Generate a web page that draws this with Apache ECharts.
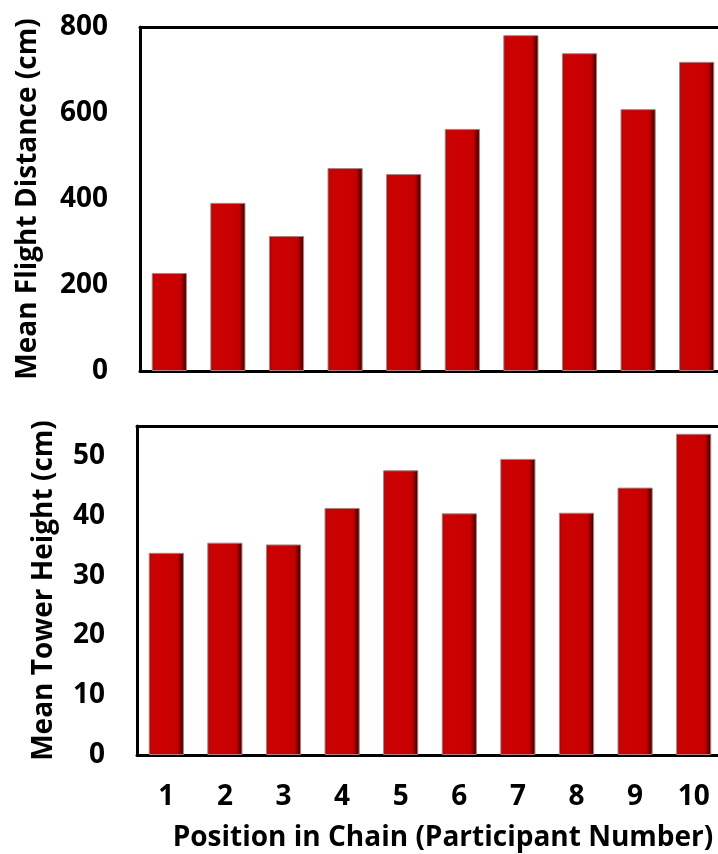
<!DOCTYPE html>
<html>
<head>
<meta charset="utf-8">
<script src="https://cdn.jsdelivr.net/npm/echarts@6/dist/echarts.min.js"></script>
<style>
html,body{margin:0;padding:0;background:#fff;}
#c{width:718px;height:854px;}
</style>
</head>
<body>
<div id="c"></div>
<script>
const categories = ['1','2','3','4','5','6','7','8','9','10'];
const flightDistance = [228, 391, 314, 472, 458, 563, 781, 739, 609, 719];
const towerHeight = [33.8, 35.5, 35.2, 41.3, 47.6, 40.4, 49.5, 40.5, 44.7, 53.7];
const flightTicks = {min: 0, max: 800, interval: 200};
const towerTicks = {min: 0, max: 55, interval: 10};
const flightTitle = 'Mean Flight Distance (cm)';
const towerTitle = 'Mean Tower Height (cm)';
const xTitle = 'Position in Chain (Participant Number)';

const FONT = '"Open Sans", "DejaVu Sans", sans-serif';
const barStyle = {
  color: {
    type: 'linear', x: 0, y: 0, x2: 1, y2: 0,
    colorStops: [
      {offset: 0, color: '#9a0000'},
      {offset: 0.08, color: '#c80303'},
      {offset: 0.5, color: '#cc0000'},
      {offset: 0.82, color: '#c40000'},
      {offset: 0.93, color: '#6a0000'},
      {offset: 1, color: '#1a0000'}
    ]
  },
  borderColor: '#b08080',
  borderWidth: 1
};
const blackLine = {show: true, lineStyle: {color: '#000', width: 3}};

const chart = echarts.init(document.getElementById('c'));
chart.setOption({
  animation: false,
  backgroundColor: '#fff',
  grid: [
    {left: 140, width: 586, top: 27, height: 344, show: false, containLabel: false, outerBoundsMode: 'none'},
    {left: 137, width: 586, top: 426, height: 329, show: false, containLabel: false, outerBoundsMode: 'none'}
  ],
  xAxis: [
    {type: 'category', gridIndex: 0, data: categories, axisLine: blackLine,
     axisTick: {show: false}, axisLabel: {show: false}},
    {type: 'category', gridIndex: 1, data: categories, axisLine: blackLine,
     axisTick: {show: false},
     axisLabel: {show: true, color: '#000', fontFamily: FONT, fontWeight: 'bold', fontSize: 28, margin: 28}},
    {type: 'category', gridIndex: 0, position: 'top', data: categories, axisLine: blackLine,
     axisTick: {show: false}, axisLabel: {show: false}},
    {type: 'category', gridIndex: 1, position: 'top', data: categories, axisLine: blackLine,
     axisTick: {show: false}, axisLabel: {show: false}}
  ],
  yAxis: [
    {type: 'value', gridIndex: 0, min: flightTicks.min, max: flightTicks.max, interval: flightTicks.interval,
     name: flightTitle, nameLocation: 'middle', nameGap: 98,
     nameTextStyle: {color: '#000', fontFamily: FONT, fontWeight: 'bold', fontSize: 28},
     axisLine: blackLine,
     axisTick: {show: false}, splitLine: {show: false},
     axisLabel: {color: '#000', fontFamily: FONT, fontWeight: 'bold', fontSize: 28, margin: 32}},
    {type: 'value', gridIndex: 1, min: towerTicks.min, max: towerTicks.max, interval: towerTicks.interval,
     name: towerTitle, nameLocation: 'middle', nameGap: 79,
     nameTextStyle: {color: '#000', fontFamily: FONT, fontWeight: 'bold', fontSize: 28},
     axisLine: blackLine,
     axisTick: {show: false}, splitLine: {show: false},
     axisLabel: {color: '#000', fontFamily: FONT, fontWeight: 'bold', fontSize: 28, margin: 32, showMaxLabel: false}}
  ],
  graphic: [
    {type: 'text', x: 443, y: 838, style: {text: xTitle, fill: '#000', font: 'bold 28px ' + FONT, textAlign: 'center', textVerticalAlign: 'middle'}}
  ],
  series: [
    {type: 'bar', xAxisIndex: 0, yAxisIndex: 0, data: flightDistance, barCategoryGap: '40%', itemStyle: barStyle},
    {type: 'bar', xAxisIndex: 1, yAxisIndex: 1, data: towerHeight, barCategoryGap: '40%', itemStyle: barStyle}
  ]
});
</script>
</body>
</html>
